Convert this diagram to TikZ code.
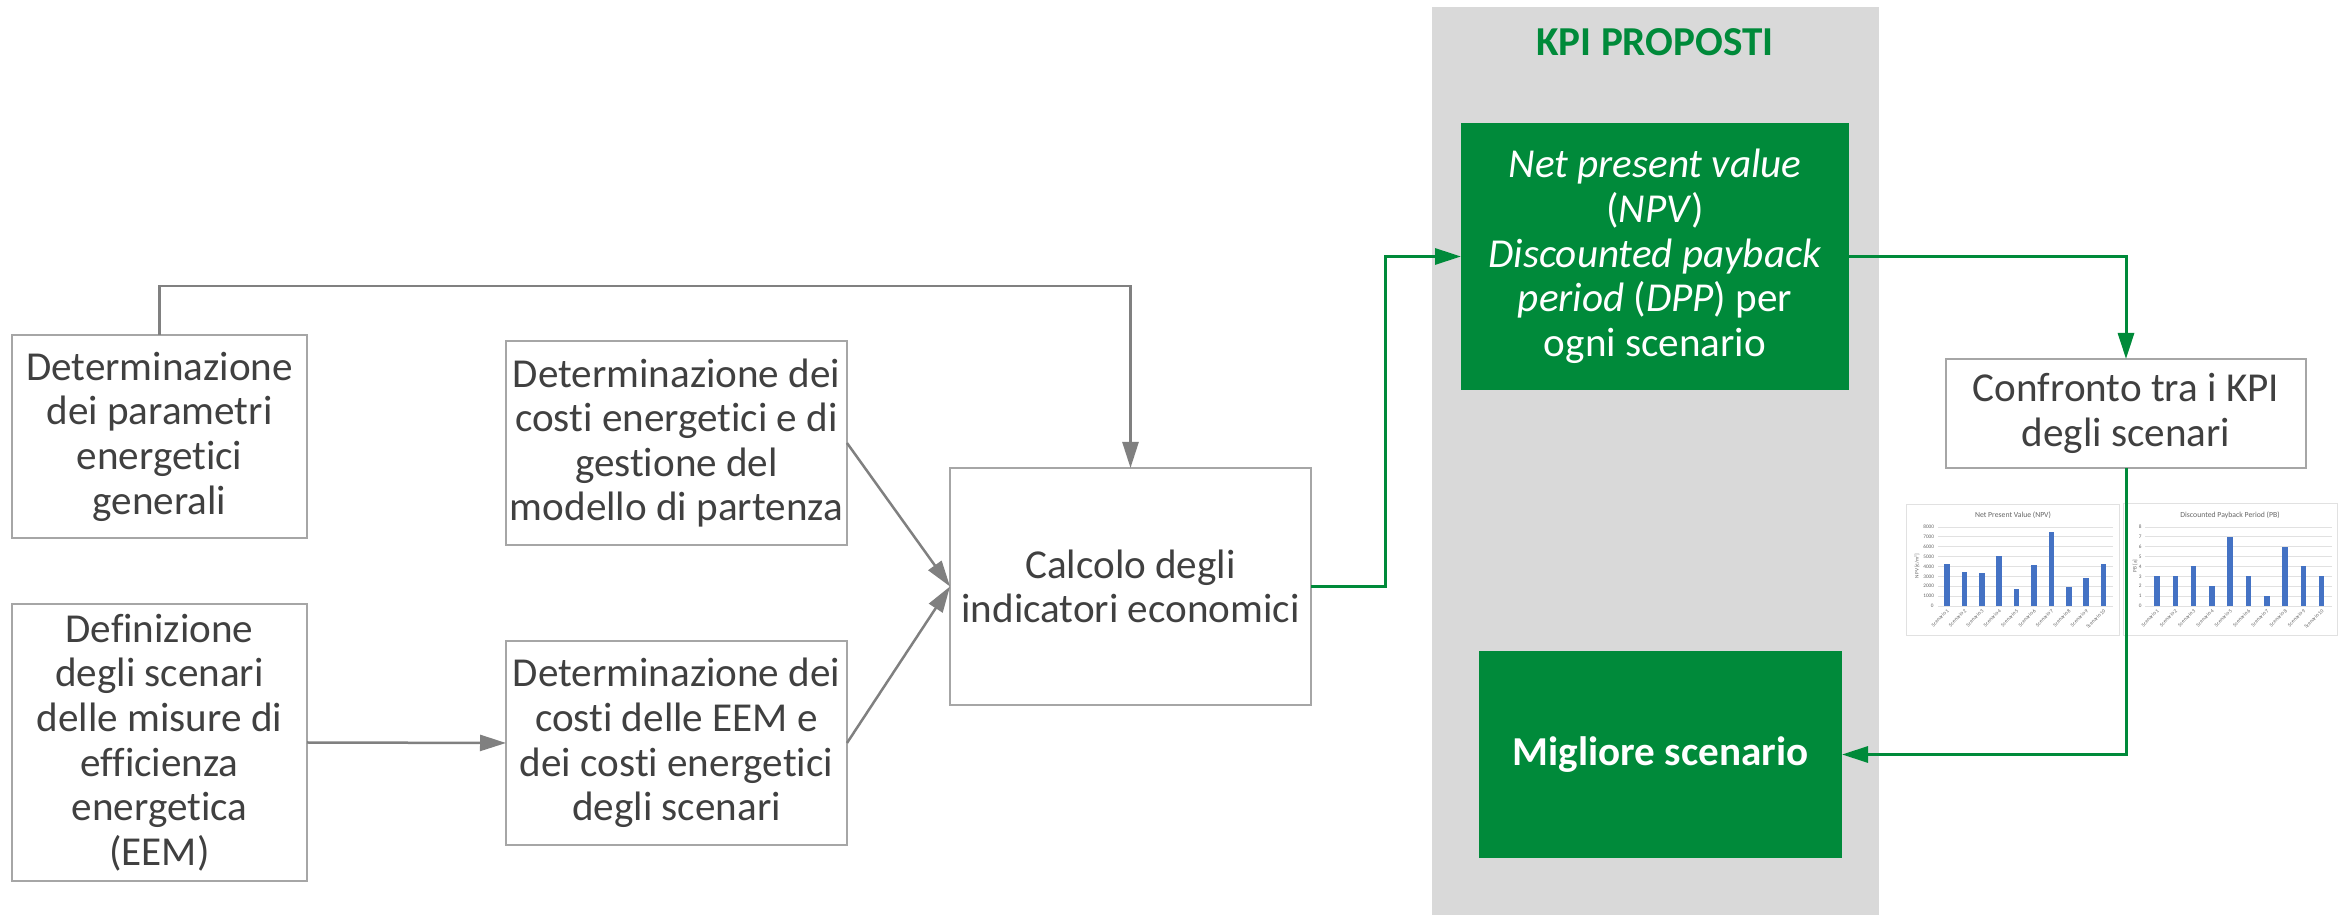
\documentclass[tikz,border=0pt]{standalone}
\usepackage{fontspec}
\setmainfont{Carlito}[Ligatures=NoCommon]
\usetikzlibrary{arrows.meta}
\definecolor{kpigreen}{RGB}{0,138,58}
\definecolor{txtgray}{RGB}{64,64,64}
\definecolor{boxgray}{RGB}{166,166,166}
\definecolor{arrgray}{RGB}{128,128,128}
\definecolor{bandgray}{RGB}{217,217,217}
\definecolor{gridgray}{RGB}{225,225,225}
\definecolor{barblue}{RGB}{68,114,196}

\begin{document}
\begin{tikzpicture}[x=0.1mm, y=-0.1mm,
  every node/.style={inner sep=0pt, outer sep=0pt},
  box/.style={draw=boxgray, line width=0.2mm, fill=white, text=txtgray, align=center, font=\fontsize{11.7}{12.7}\selectfont},
  kpibox/.style={fill=kpigreen, text=white, align=center, font=\fontsize{11.7}{12.7}\selectfont},
  garrow/.style={draw=arrgray, line width=0.25mm, -{Triangle[length=2.6mm, width=1.6mm]}},
  karrow/.style={draw=kpigreen, line width=0.3mm, -{Triangle[length=2.6mm, width=1.6mm]}},
  chartbox/.style={fill=white, draw=gridgray, line width=0.1mm},
  charttitle/.style={text=txtgray!80, font=\fontsize{2.2}{2.6}\selectfont},
  charttxt/.style={text=txtgray!80, font=\fontsize{1.5}{1.8}\selectfont}
]
\fill[white] (0,0) rectangle (2344,915);
\fill[bandgray] (1432,7) rectangle (1879,915);
\node[text=kpigreen, font=\bfseries\fontsize{11.7}{12.7}\selectfont] (title) at (1655,42) {KPI PROPOSTI};

\node[box, minimum width=29.5mm, minimum height=20.3mm] (par) at (159.5,436.5) {Determinazione\\dei parametri\\energetici\\generali};
\node[box, minimum width=34.1mm, minimum height=20.4mm] (base) at (676.5,443) {Determinazione dei\\costi energetici e di\\gestione del\\modello di partenza};
\node[box, minimum width=29.5mm, minimum height=27.7mm] (eem) at (159.5,742.5) {Definizione\\degli scenari\\delle misure di\\efficienza\\energetica\\(EEM)};
\node[box, minimum width=34.1mm, minimum height=20.4mm] (scen) at (676.5,743) {Determinazione dei\\costi delle EEM e\\dei costi energetici\\degli scenari};
\node[box, minimum width=36.1mm, minimum height=23.7mm] (calc) at (1130.5,586.5) {Calcolo degli\\indicatori economici};
\node[kpibox, minimum width=38.8mm, minimum height=26.7mm] (npv) at (1655,256.5) {\textit{Net present value}\\(\textit{NPV})\\\textit{Discounted payback}\\\textit{period} (\textit{DPP}) per\\ogni scenario};
\node[box, minimum width=36mm, minimum height=10.9mm] (cmp) at (2126,413.5) {Confronto tra i KPI\\degli scenari};
\node[kpibox, font=\bfseries\fontsize{11.7}{12.7}\selectfont, minimum width=36.3mm, minimum height=20.7mm] (best) at (1660.5,754.5) {Migliore scenario};

\draw[chartbox] (1906,505) rectangle (2119,636);
\node[charttitle] (npvtitle) at (2013,515) {Net Present Value (NPV)};
\node[charttxt, rotate=90] (npvaxis) at (1917,566) {NPV [€/m²]};
\foreach \k in {0,...,8} {
  \draw[gridgray, line width=0.08mm] (1938,{606-9.875*\k}) -- (2113,{606-9.875*\k});
  \node[charttxt, anchor=east] (npvtick\k) at (1934,{606-9.875*\k}) {\the\numexpr\k*1000\relax};
}
\foreach \v [count=\i] in {4300,3400,3350,5100,1700,4150,7450,1950,2800,4250} {
  \fill[barblue] ({1944.25+17.4*(\i-1)},606) rectangle ++(5.5,{-\v*0.009875});
  \node[charttxt, rotate=45, anchor=east] (npvlab\i) at ({1948+17.4*(\i-1)},610) {Scenario \i};
}

\draw[chartbox] (2123,504) rectangle (2337,636);
\node[charttitle] (pbtitle) at (2230,515) {Discounted Payback Period (PB)};
\node[charttxt, rotate=90] (pbaxis) at (2135,566) {PB [a]};
\foreach \k in {0,...,8} {
  \draw[gridgray, line width=0.08mm] (2145,{606-9.875*\k}) -- (2332,{606-9.875*\k});
  \node[charttxt, anchor=east] (pbtick\k) at (2142,{606-9.875*\k}) {\k};
}
\foreach \v [count=\i] in {3,3,4,2,7,3,1,6,4,3} {
  \fill[barblue] ({2154.25+18.3*(\i-1)},606) rectangle ++(5.5,{-\v*9.875});
  \node[charttxt, rotate=45, anchor=east] (pblab\i) at ({2158+18.3*(\i-1)},610) {Scenario \i};
}

\draw[garrow] (par.north) -- ++(0,-49) -| (calc.north);
\draw[garrow] (base.east) -- (calc.west);
\draw[garrow] (scen.east) -- (calc.west);
\draw[garrow] (eem.east) -- (scen.west);
\draw[karrow] (calc.east) -- ++(74,0) |- (npv.west);
\draw[karrow] (npv.east) -| (cmp.north);
\draw[karrow] (cmp.south) |- (best.east);
\end{tikzpicture}
\end{document}
